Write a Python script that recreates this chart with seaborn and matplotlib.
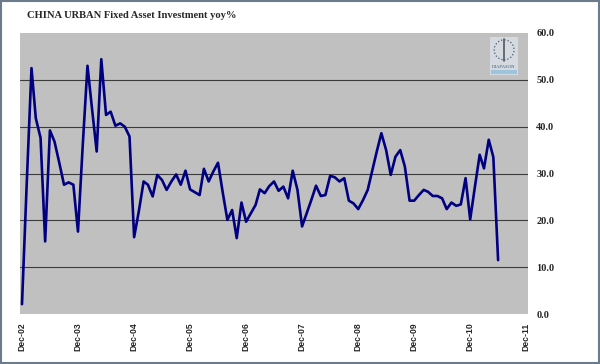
import pandas as pd
import matplotlib
matplotlib.use("Agg")
import matplotlib.pyplot as plt
import matplotlib.dates as mdates
from matplotlib.patches import Rectangle, Ellipse
import seaborn as sns

# monthly yoy %, Dec-02 .. Jun-11
start_month = "2002-12-01"
fai_yoy = [
    2.1, 28.0, 52.5, 41.8, 37.6, 15.5, 39.2, 36.8, 32.3, 27.6, 28.1, 27.6,
    17.6, 36.0, 53.0, 44.0, 34.7, 54.4, 42.5, 43.2, 40.2, 40.7, 40.0, 37.9,
    16.4, 22.0, 28.3, 27.6, 25.1, 29.7, 28.6, 26.5, 28.3, 29.8, 27.6, 30.6,
    26.6, 26.0, 25.4, 31.0, 28.3, 30.4, 32.3, 26.1, 20.1, 22.2, 16.2, 23.8,
    19.7, 21.5, 23.3, 26.6, 25.8, 27.3, 28.3, 26.3, 27.2, 24.7, 30.6, 26.5,
    18.7, 21.6, 24.5, 27.4, 25.2, 25.4, 29.5, 29.2, 28.3, 29.0, 24.2, 23.6,
    22.4, 24.3, 26.5, 30.4, 34.7, 38.6, 35.0, 29.7, 33.6, 35.0, 31.5, 24.2,
    24.2, 25.4, 26.5, 26.1, 25.2, 25.2, 24.7, 22.4, 23.8, 23.1, 23.4, 29.0,
    20.2, 27.2, 34.0, 31.1, 37.2, 33.5, 11.5,
]
y_ticks = [0, 10, 20, 30, 40, 50, 60]
title = "CHINA URBAN Fixed Asset Investment yoy%"

df = pd.DataFrame({
    "month": pd.date_range(start_month, periods=len(fai_yoy), freq="MS"),
    "yoy": fai_yoy,
})

sns.set_style("white")
plt.rcParams["font.family"] = ["DejaVu Sans"]

fig = plt.figure(figsize=(6, 3.64), dpi=100)
ax = fig.add_axes([20 / 600, 1 - 314 / 364, 508 / 600, 281 / 364])
ax.set_facecolor("#c0c0c0")

sns.lineplot(data=df, x="month", y="yoy", ax=ax, color="#000080", linewidth=1.9)

ax.set_ylim(0, 60)
ax.set_yticks(y_ticks)
for v in y_ticks[1:-1]:
    ax.axhline(v, color="#3c3c3c", linewidth=0.8, zorder=1)
ax.yaxis.tick_right()
ax.yaxis.set_major_formatter(matplotlib.ticker.FormatStrFormatter("%.1f"))
for lab in ax.get_yticklabels():
    lab.set_fontfamily("Liberation Serif")
    lab.set_fontweight("bold")
    lab.set_fontsize(7.5)
ax.tick_params(axis="y", length=0, pad=6)

ax.set_xlim(pd.Timestamp("2002-11-18"), pd.Timestamp("2011-12-13"))
ax.xaxis.set_major_locator(mdates.MonthLocator(bymonth=12))
ax.xaxis.set_major_formatter(mdates.DateFormatter("%b-%y"))
for lab in ax.get_xticklabels():
    lab.set_rotation(90)
    lab.set_fontfamily("Liberation Sans")
    lab.set_fontweight("bold")
    lab.set_fontsize(6.2)
ax.tick_params(axis="x", length=0, pad=6)
ax.set_xlabel("")
ax.set_ylabel("")
for s in ax.spines.values():
    s.set_visible(False)

# DIAPASON logo, top right of the plot area
ax.add_patch(Rectangle((0.925, 0.85), 0.055, 0.136, transform=ax.transAxes,
                       facecolor="#d5dae0", edgecolor="none", zorder=3))
ax.add_patch(Ellipse((0.953, 0.94), 0.039, 0.071, transform=ax.transAxes, fill=False,
                     edgecolor="#4a5a6a", linestyle=":", linewidth=0.9, zorder=4))
ax.plot([0.953, 0.953], [0.9, 0.98], transform=ax.transAxes,
        color="#4a5a6a", linewidth=1.2, zorder=4)
ax.text(0.953, 0.878, "DIAPASON", transform=ax.transAxes, ha="center",
        va="center", fontsize=3.4, color="#3b5a7a", family="Liberation Serif", zorder=4)
ax.add_patch(Rectangle((0.927, 0.853), 0.051, 0.014, transform=ax.transAxes,
                       facecolor="#9ec3dc", edgecolor="none", zorder=4))

fig.text(27 / 600, 1 - 18 / 364, title, ha="left", va="baseline",
         fontsize=7.6, fontweight="bold", family="Liberation Serif")

fig.patches.append(Rectangle((0.002, 0.003), 0.996, 0.994, transform=fig.transFigure,
                             fill=False, edgecolor="#6b7b8b", linewidth=1.5))

fig.savefig("out.png", dpi=100)
